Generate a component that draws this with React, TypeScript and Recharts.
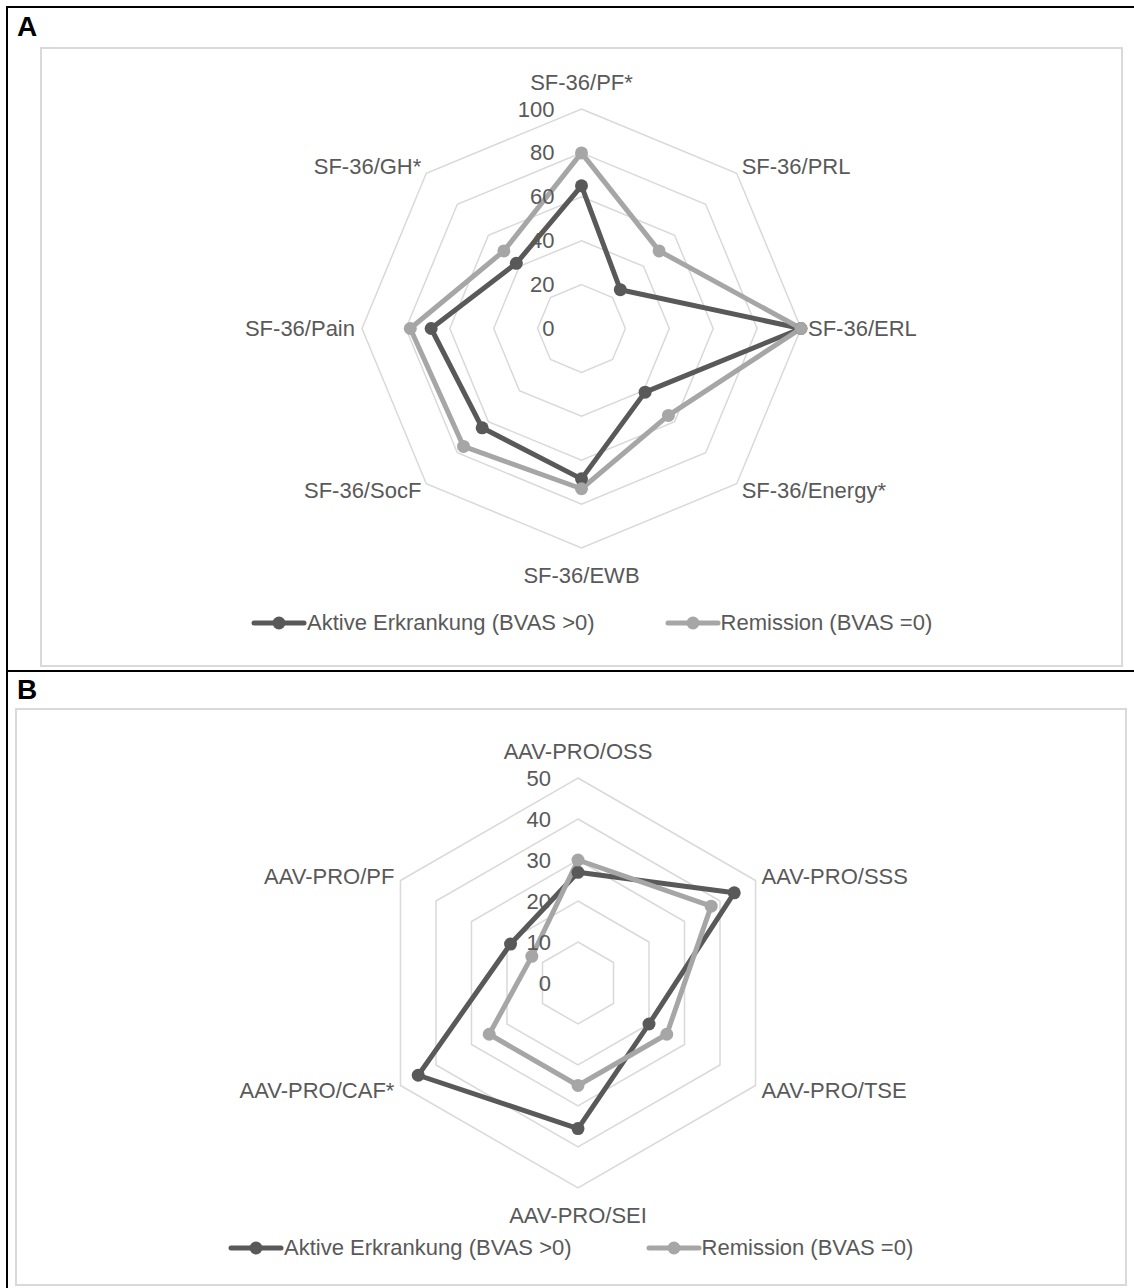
import React from 'react';
import {
  RadarChart,
  Radar,
  PolarGrid,
  PolarAngleAxis,
  PolarRadiusAxis,
  Legend,
} from 'recharts';

// Panel A – SF-36
const sfCategories = [
  'SF-36/PF*',
  'SF-36/PRL',
  'SF-36/ERL',
  'SF-36/Energy*',
  'SF-36/EWB',
  'SF-36/SocF',
  'SF-36/Pain',
  'SF-36/GH*',
];
const sfActive = [65, 25, 100, 41, 68.5, 64, 68.5, 42];
const sfRemission = [80, 50, 100, 56, 73, 76, 78, 50];
const sfTicks = [0, 20, 40, 60, 80, 100];

// Panel B – AAV-PRO
const aavCategories = [
  'AAV-PRO/OSS',
  'AAV-PRO/SSS',
  'AAV-PRO/TSE',
  'AAV-PRO/SEI',
  'AAV-PRO/CAF*',
  'AAV-PRO/PF',
];
const aavActive = [27, 44, 20, 35.5, 45, 19];
const aavRemission = [30, 37.5, 25, 25, 25, 13];
const aavTicks = [0, 10, 20, 30, 40, 50];

const seriesNames = ['Aktive Erkrankung (BVAS >0)', 'Remission (BVAS =0)'];

const DARK = '#595959';
const LIGHT = '#a6a6a6';
const GRID = '#d9d9d9';
const TEXT = '#595959';
const FONT = '"Liberation Sans", Arial, sans-serif';

type PanelProps = {
  categories: string[];
  active: number[];
  remission: number[];
  ticks: number[];
  width: number;
  height: number;
  cx: number;
  cy: number;
  radius: number;
  legendLeft: number;
  legendY: number;
  legendGap: number;
};

function makeAngleTick(cx: number, cy: number, r: number) {
  return (props: any) => {
    const { x, y, payload } = props;
    const dx = x - cx;
    const dy = y - cy;
    const len = Math.hypot(dx, dy) || 1;
    const ux = dx / len;
    const uy = dy / len;
    const vertical = Math.abs(ux) < 0.1;
    const anchor = vertical ? 'middle' : ux > 0 ? 'start' : 'end';
    const tx = cx + ux * r + ux * 7;
    const ty = cy + uy * r + uy * (vertical ? 27 : 9);
    return (
      <text
        x={tx}
        y={ty}
        textAnchor={anchor}
        dominantBaseline="central"
        fill={TEXT}
        fontSize={22}
        fontFamily={FONT}
      >
        {payload.value}
      </text>
    );
  };
}

const radiusTick = (props: any) => {
  const { x, y, payload } = props;
  return (
    <text
      x={x - 27}
      y={y}
      textAnchor="end"
      dominantBaseline="central"
      fill={TEXT}
      fontSize={22}
      fontFamily={FONT}
    >
      {payload.value}
    </text>
  );
};

const makeDot = (color: string) => (props: any) => {
  const { cx, cy, index } = props;
  if (cx == null || cy == null) return <g key={index} />;
  return <circle key={index} cx={cx} cy={cy} r={6.5} fill={color} stroke="none" />;
};

function makeLegend(gap: number) {
  const colors = [DARK, LIGHT];
  return (props: any) => {
    const { payload = [] } = props;
    return (
      <div style={{ display: 'flex', alignItems: 'center', gap }}>
        {payload.map((entry: any, i: number) => (
          <div key={entry.value} style={{ display: 'flex', alignItems: 'center' }}>
            <svg width={56} height={16}>
              <line
                x1={3}
                y1={8}
                x2={53}
                y2={8}
                stroke={colors[i]}
                strokeWidth={5}
                strokeLinecap="round"
              />
              <circle cx={28} cy={8} r={6.5} fill={colors[i]} />
            </svg>
            <span style={{ fontSize: 22, color: TEXT, fontFamily: FONT, whiteSpace: 'nowrap' }}>
              {entry.value}
            </span>
          </div>
        ))}
      </div>
    );
  };
}

function Panel(p: PanelProps) {
  const data = p.categories.map((c, i) => ({
    subject: c,
    active: p.active[i],
    remission: p.remission[i],
  }));
  const max = p.ticks[p.ticks.length - 1];

  return (
    <RadarChart
      width={p.width}
      height={p.height}
      data={data}
      cx={p.cx}
      cy={p.cy}
      outerRadius={p.radius}
      margin={{ top: 0, right: 0, bottom: 0, left: 0 }}
    >
      <PolarGrid gridType="polygon" radialLines={false} stroke={GRID} strokeWidth={1.5} />
      <PolarAngleAxis
        dataKey="subject"
        axisLine={false}
        tickLine={false}
        tick={makeAngleTick(p.cx, p.cy, p.radius)}
      />
      <PolarRadiusAxis
        angle={90}
        domain={[0, max]}
        ticks={p.ticks}
        tickCount={p.ticks.length}
        axisLine={false}
        tickLine={false}
        tick={radiusTick}
      />
      <Radar
        name={seriesNames[0]}
        dataKey="active"
        stroke={DARK}
        strokeWidth={5}
        strokeLinejoin="round"
        fill="none"
        fillOpacity={0}
        dot={makeDot(DARK)}
        isAnimationActive={false}
      />
      <Radar
        name={seriesNames[1]}
        dataKey="remission"
        stroke={LIGHT}
        strokeWidth={5}
        strokeLinejoin="round"
        fill="none"
        fillOpacity={0}
        dot={makeDot(LIGHT)}
        isAnimationActive={false}
      />
      <Legend
        content={makeLegend(p.legendGap)}
        wrapperStyle={{ left: p.legendLeft, top: p.legendY - 13, width: 'auto', height: 26 }}
      />
    </RadarChart>
  );
}

const panelLabel: React.CSSProperties = {
  position: 'absolute',
  left: 17,
  fontFamily: FONT,
  fontWeight: 'bold',
  fontSize: 28,
  lineHeight: '28px',
  color: '#000',
};

export default function App() {
  return (
    <div
      style={{
        position: 'relative',
        width: 1134,
        height: 1288,
        background: '#fff',
        overflow: 'hidden',
      }}
    >
      <style>{'body{margin:0}'}</style>

      {/* outer frame */}
      <div style={{ position: 'absolute', left: 6, top: 6, width: 1128, height: 2, background: '#000' }} />
      <div style={{ position: 'absolute', left: 6, top: 6, width: 2, height: 1282, background: '#000' }} />
      <div style={{ position: 'absolute', left: 6, top: 670, width: 1128, height: 2, background: '#000' }} />

      <div style={{ ...panelLabel, top: 13 }}>A</div>
      <div style={{ ...panelLabel, top: 676 }}>B</div>

      <div
        style={{
          position: 'absolute',
          left: 40,
          top: 47,
          width: 1083,
          height: 620,
          border: `2px solid ${GRID}`,
          boxSizing: 'border-box',
        }}
      >
        <Panel
          categories={sfCategories}
          active={sfActive}
          remission={sfRemission}
          ticks={sfTicks}
          width={1079}
          height={616}
          cx={539.5}
          cy={279.5}
          radius={219.5}
          legendLeft={209}
          legendY={574}
          legendGap={70}
        />
      </div>

      <div
        style={{
          position: 'absolute',
          left: 15,
          top: 708,
          width: 1112,
          height: 578,
          border: `2px solid ${GRID}`,
          boxSizing: 'border-box',
        }}
      >
        <Panel
          categories={aavCategories}
          active={aavActive}
          remission={aavRemission}
          ticks={aavTicks}
          width={1108}
          height={574}
          cx={561}
          cy={273}
          radius={205}
          legendLeft={211}
          legendY={538}
          legendGap={74}
        />
      </div>
    </div>
  );
}
